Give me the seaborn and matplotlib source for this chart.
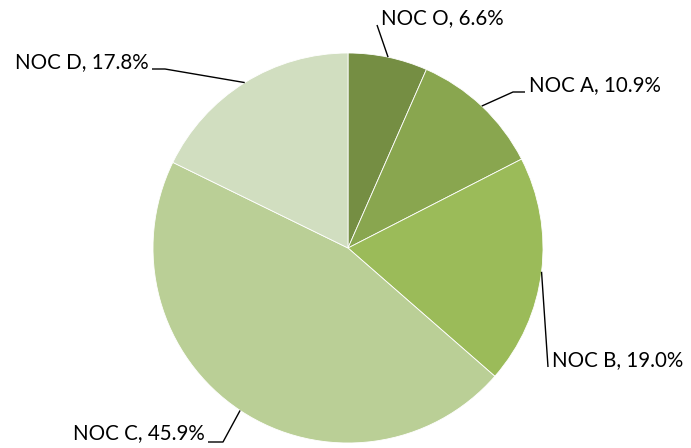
import numpy as np
import seaborn as sns
import matplotlib.pyplot as plt

labels = ['NOC O', 'NOC A', 'NOC B', 'NOC C', 'NOC D']
shares = [6.6, 10.9, 19.0, 45.9, 17.8]
colors = ['#758E43', '#89A64F', '#9BBB59', '#BACF96', '#D1DEC0']

sns.set_theme(style='white')
plt.rcParams['font.family'] = ['Lato', 'DejaVu Sans']

W, H = 691, 448
fig = plt.figure(figsize=(W / 100, H / 100), dpi=100)
ax = fig.add_axes([0, 0, 1, 1])

cx, cy, r = 348, H - 248, 195
wedges, _ = ax.pie(shares, colors=colors, startangle=90, counterclock=False,
                   center=(cx, cy), radius=r, frame=True,
                   wedgeprops=dict(edgecolor='white', linewidth=0.6))
ax.set_xlim(0, W)
ax.set_ylim(0, H)
ax.set_aspect('equal')
ax.axis('off')

# label placement (pixel coords, y down): text anchor, elbow points, alignment
layout = {
    'NOC O': dict(text=(381, 18), elbow=[(377, 25)], ha='left'),
    'NOC A': dict(text=(529, 85), elbow=[(525, 92), (513, 92)], ha='left'),
    'NOC B': dict(text=(552, 360), elbow=[(548, 367)], ha='left'),
    'NOC C': dict(text=(205, 433), elbow=[(208, 442), (223, 442)], ha='right'),
    'NOC D': dict(text=(149, 62), elbow=[(152, 69), (165, 69)], ha='right'),
}

for w, lab, val in zip(wedges, labels, shares):
    mid = np.deg2rad((w.theta1 + w.theta2) / 2)
    ex, ey = cx + r * np.cos(mid), cy + r * np.sin(mid)
    spec = layout[lab]
    pts = [(x, H - y) for x, y in spec['elbow']]
    xs = [ex] + [p[0] for p in reversed(pts)]
    ys = [ey] + [p[1] for p in reversed(pts)]
    ax.plot(xs, ys, color='black', linewidth=1.0, solid_capstyle='butt')
    tx, ty = spec['text']
    ax.text(tx, H - ty, f'{lab}, {val:.1f}%', ha=spec['ha'], va='center',
            fontsize=14.8, color='black')

fig.savefig('out.png', dpi=100)
